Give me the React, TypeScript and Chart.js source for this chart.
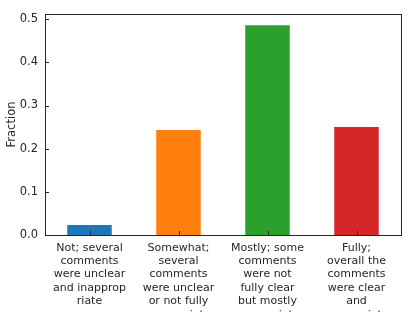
import React, { useEffect, useRef } from "react";
import { Chart, registerables } from "chart.js";

Chart.register(...registerables);

const categories: string[][] = [
  ["Not; several", "comments", "were unclear", "and inapprop", "riate"],
  ["Somewhat;", "several", "comments", "were unclear", "or not fully", "appropriate"],
  ["Mostly; some", "comments", "were not", "fully clear", "but mostly", "appropriate"],
  ["Fully;", "overall the", "comments", "were clear", "and", "appropriate"],
];
const fractions: number[] = [0.023, 0.243, 0.486, 0.25];
const barColors: string[] = ["#1f77b4", "#ff7f0e", "#2ca02c", "#d62728"];
const yTicks: number[] = [0, 0.1, 0.2, 0.3, 0.4, 0.5];

const FONT = "'DejaVu Sans', sans-serif";
const INK = "#262626";

const framePlugin = {
  id: "frame",
  afterDatasetsDraw(chart: any) {
    const { ctx, chartArea } = chart;
    const { left, right, top, bottom } = chartArea;
    ctx.save();
    ctx.strokeStyle = INK;
    ctx.lineWidth = 1;
    const ys = chart.scales.y;
    yTicks.forEach((v) => {
      const y = Math.round(ys.getPixelForValue(v)) + 0.5;
      ctx.beginPath();
      ctx.moveTo(left, y);
      ctx.lineTo(left + 4, y);
      ctx.stroke();
    });
    const xs = chart.scales.x;
    categories.forEach((_, i) => {
      const x = Math.round(xs.getPixelForValue(i)) + 0.5;
      ctx.beginPath();
      ctx.moveTo(x, bottom);
      ctx.lineTo(x, bottom - 4);
      ctx.stroke();
    });
    ctx.strokeRect(Math.round(left) + 0.5, Math.round(top) + 0.5, Math.round(right - left), Math.round(bottom - top));
    ctx.restore();
  },
};

export default function App() {
  const ref = useRef<HTMLCanvasElement>(null);
  useEffect(() => {
    const chart = new Chart(ref.current!, {
      type: "bar",
      data: {
        labels: categories,
        datasets: [
          {
            data: fractions,
            backgroundColor: barColors,
            borderWidth: 0,
            barPercentage: 0.5,
            categoryPercentage: 1,
          },
        ],
      },
      options: {
        responsive: false,
        animation: false,
        layout: { padding: { top: 14, right: 14, left: 0, bottom: 0 } },
        plugins: { legend: { display: false }, tooltip: { enabled: false } },
        scales: {
          x: {
            offset: true,
            grid: { display: false, drawTicks: false },
            border: { display: false },
            ticks: {
              color: INK,
              padding: 6,
              maxRotation: 0,
              autoSkip: false,
              font: { family: FONT, size: 11, lineHeight: 1.22 },
            },
            afterFit: (s: any) => {
              s.height = 105;
            },
          },
          y: {
            min: 0,
            max: 0.512,
            grid: { display: false, drawTicks: false },
            border: { display: false },
            afterBuildTicks: (s: any) => {
              s.ticks = yTicks.map((v) => ({ value: v }));
            },
            ticks: {
              color: INK,
              padding: 7,
              font: { family: FONT, size: 11.5 },
              callback: (v: any) => Number(v).toFixed(1),
            },
            title: {
              display: true,
              text: "Fraction",
              color: INK,
              font: { family: FONT, size: 11.5 },
              padding: { top: 5, bottom: 0 },
            },
            afterFit: (s: any) => {
              s.width = 45;
            },
          },
        },
      },
      plugins: [framePlugin],
    });
    return () => chart.destroy();
  }, []);
  return (
    <div style={{ position: "fixed", left: 0, top: 0, width: 415, height: 312, overflow: "hidden", background: "#fff" }}>
      <canvas ref={ref} width={415} height={340} style={{ display: "block" }} />
    </div>
  );
}
